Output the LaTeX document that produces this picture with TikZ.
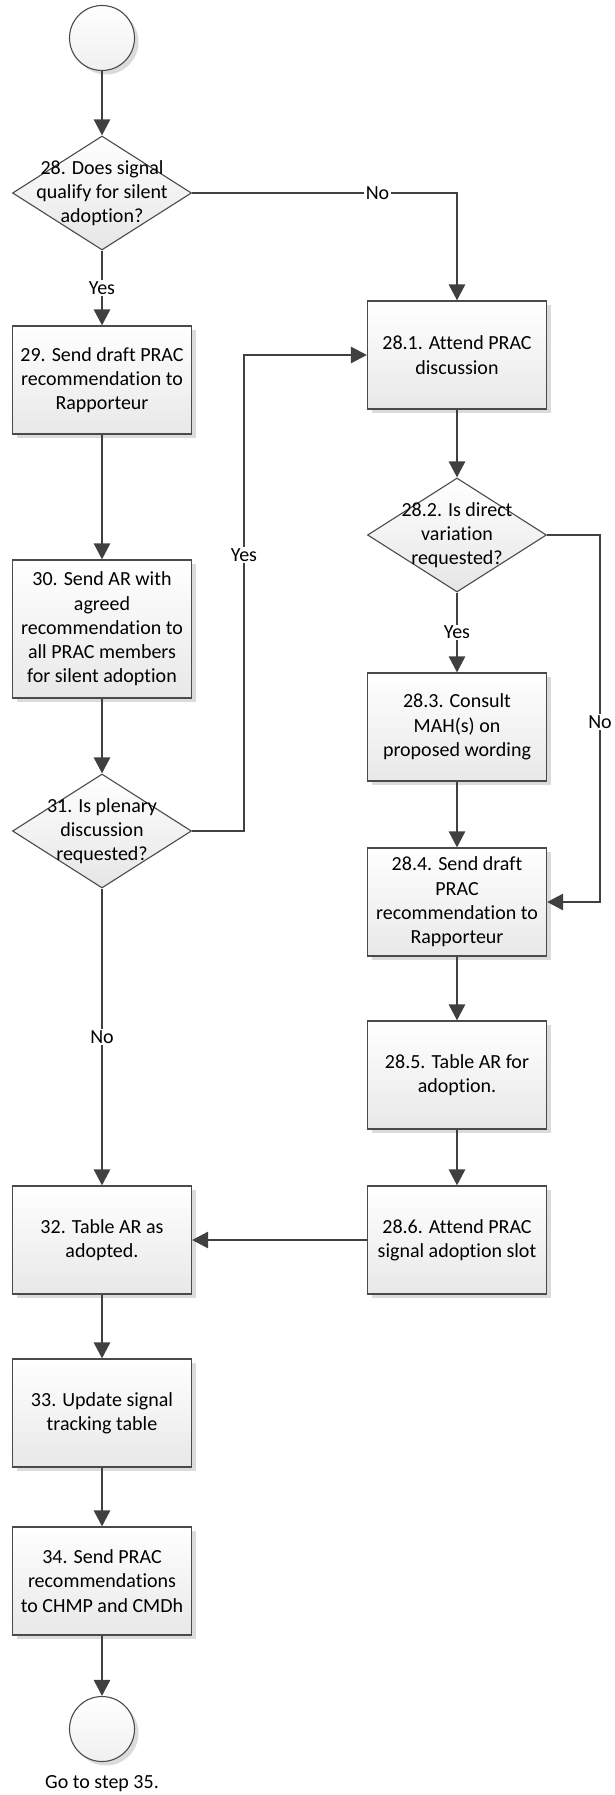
\documentclass[tikz,border=0pt]{standalone}
\usepackage{fontspec}
\setmainfont{Carlito}[Ligatures=NoCommon]
\usetikzlibrary{arrows.meta,shapes.geometric,shadows}
\definecolor{linegray}{HTML}{404040}
\definecolor{boxline}{HTML}{4A4A4A}
\begin{document}
\begin{tikzpicture}[
  x=1pt, y=-1pt,
  % GLOBAL CFG
  font=\fontsize{20}{24.3}\selectfont,
  % Styles
  process/.style={% For the step boxes
      rectangle,
      draw=boxline,
      line width=1.1pt,
      top color=white,
      bottom color=black!9,
      minimum width=179pt,
      minimum height=108pt,
      inner sep=2pt,
      align=center,
      drop shadow={shadow xshift=4pt, shadow yshift=-4pt, fill=black!14, opacity=1},
      },
  decision/.style={% For the questions
      diamond,
      draw=boxline,
      line width=1.1pt,
      top color=white,
      bottom color=black!10,
      minimum width=179pt,
      minimum height=114pt,
      inner sep=0pt,
      },
  dtext/.style={% Text sitting on a diamond
      align=center,
      inner sep=0pt,
      },
  terminal/.style={% Start and end circles
      circle,
      draw=boxline,
      line width=1.1pt,
      top color=white,
      bottom color=black!6,
      minimum size=65pt,
      inner sep=0pt,
      drop shadow={shadow xshift=4pt, shadow yshift=-4pt, fill=black!14, opacity=1},
      },
  conn/.style={% Connectors
      draw=linegray,
      line width=2.6pt,
      -{Triangle[length=16pt, width=16pt]},
      },
  answer/.style={% Yes / No on the connectors
      fill=white,
      inner sep=1.5pt,
      },
  ]

  \useasboundingbox (0,0) rectangle (614,1795);

  % Left column
  \node [terminal] (start) at (102,38) {};
  \node [decision, label={[dtext]center:28. Does signal\\qualify for silent\\adoption?}] (d28) at (102,193) {};
  \node [process] (b29) at (102,380) {29. Send draft PRAC\\recommendation to\\Rapporteur};
  \node [process, minimum height=138pt] (b30) at (102,629) {30. Send AR with\\agreed\\recommendation to\\all PRAC members\\for silent adoption};
  \node [decision, label={[dtext]center:31. Is plenary\\discussion\\requested?}] (d31) at (102,831) {};
  \node [process] (b32) at (102,1240) {32. Table AR as\\adopted.};
  \node [process] (b33) at (102,1413) {33. Update signal\\tracking table};
  \node [process] (b34) at (102,1581) {34. Send PRAC\\recommendations\\to CHMP and CMDh};
  \node [terminal] (stop) at (102,1729) {};
  \node (goto) at (102,1784) {Go to step 35.};

  % Right column
  \node [process] (b281) at (457,355) {28.1. Attend PRAC\\discussion};
  \node [decision, label={[dtext]center:28.2. Is direct\\variation\\requested?}] (d282) at (457,535) {};
  \node [process] (b283) at (457,727) {28.3. Consult\\MAH(s) on\\proposed wording};
  \node [process] (b284) at (457,902) {28.4. Send draft\\PRAC\\recommendation to\\Rapporteur};
  \node [process] (b285) at (457,1075) {28.5. Table AR for\\adoption.};
  \node [process] (b286) at (457,1240) {28.6. Attend PRAC\\signal adoption slot};

  % Bends
  \coordinate (loopA) at (244,831);
  \coordinate (sideA) at (600,535);

  % Connectors
  \draw [conn] (start) -- (d28);
  \draw [conn] (d28) -- node [answer] {Yes} (b29);
  \draw [conn] (d28.east) -| node [answer, pos=0.35] {No} (b281.north);
  \draw [conn] (b29) -- (b30);
  \draw [conn] (b30) -- (d31);
  \draw [conn] (d31.east) -- (loopA) |- node [answer, pos=0.29] {Yes} (b281.west);
  \draw [conn] (d31) -- node [answer] {No} (b32);
  \draw [conn] (b32) -- (b33);
  \draw [conn] (b33) -- (b34);
  \draw [conn] (b34) -- (stop);

  \draw [conn] (b281) -- (d282);
  \draw [conn] (d282) -- node [answer] {Yes} (b283);
  \draw [conn] (d282.east) -- (sideA) |- node [answer, pos=0.255] {No} (b284.east);
  \draw [conn] (b283) -- (b284);
  \draw [conn] (b284) -- (b285);
  \draw [conn] (b285) -- (b286);
  \draw [conn] (b286) -- (b32);

\end{tikzpicture}
\end{document}
